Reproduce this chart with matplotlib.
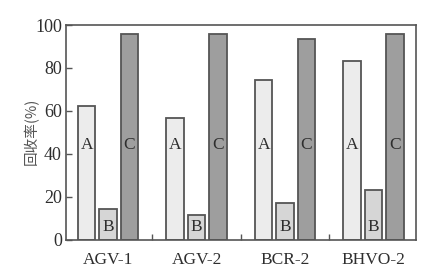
import matplotlib
matplotlib.use("Agg")
import matplotlib.pyplot as plt
import numpy as np

categories = ["AGV-1", "AGV-2", "BCR-2", "BHVO-2"]
series_names = ["A", "B", "C"]
values_A = [62.4, 56.5, 74.4, 83.1]
values_B = [14.4, 11.3, 17.2, 22.9]
values_C = [96.0, 96.0, 93.5, 96.0]
yticks = [0, 20, 40, 60, 80, 100]

plt.rcParams['font.family'] = ['Liberation Serif', 'DejaVu Serif']

fig = plt.figure(figsize=(4.25, 2.78), dpi=100)
ax = fig.add_axes([66/425, 1-239.5/278, 350/425, 214.5/278])

x = np.arange(len(categories))
w = 0.195
off = 0.242
fills = ["#ececec", "#d6d6d6", "#9e9e9e"]
edge = "#555555"
tc = "#2e2e2e"
for i, (name, vals, fc) in enumerate(zip(series_names, [values_A, values_B, values_C], fills)):
    pos = x + (i - 1) * off
    ax.bar(pos, vals, width=w, color=fc, edgecolor=edge, linewidth=1.3, zorder=2)
    ty = 6 if name == "B" else 44
    for p in pos:
        ax.text(p, ty, name, ha="center", va="center", fontsize=12.5, color=tc, zorder=3)

ax.set_xlim(-0.475, 3.48)
ax.set_ylim(0, 100)
ax.set_yticks(yticks)
ax.set_xticks(x)
ax.set_xticklabels(categories, fontsize=12.5, color=tc)
ax.set_xticks([0.5, 1.5, 2.5], minor=True)
ax.tick_params(axis="x", which="major", length=0, pad=9)
ax.tick_params(axis="x", which="minor", direction="in", length=4, width=1, color=edge)
ax.tick_params(axis="y", direction="in", length=4, width=1, color=edge, labelsize=13, labelcolor=tc, pad=3)
for s in ax.spines.values():
    s.set_color(edge)
    s.set_linewidth(1.2)

fig.text(31/425, 1-131/278, "回收率(%)", rotation=90, ha="center", va="center",
         fontsize=10.5, color="#555555", family=['Noto Sans CJK SC', 'DejaVu Sans'])

fig.savefig("out.png", dpi=100)
